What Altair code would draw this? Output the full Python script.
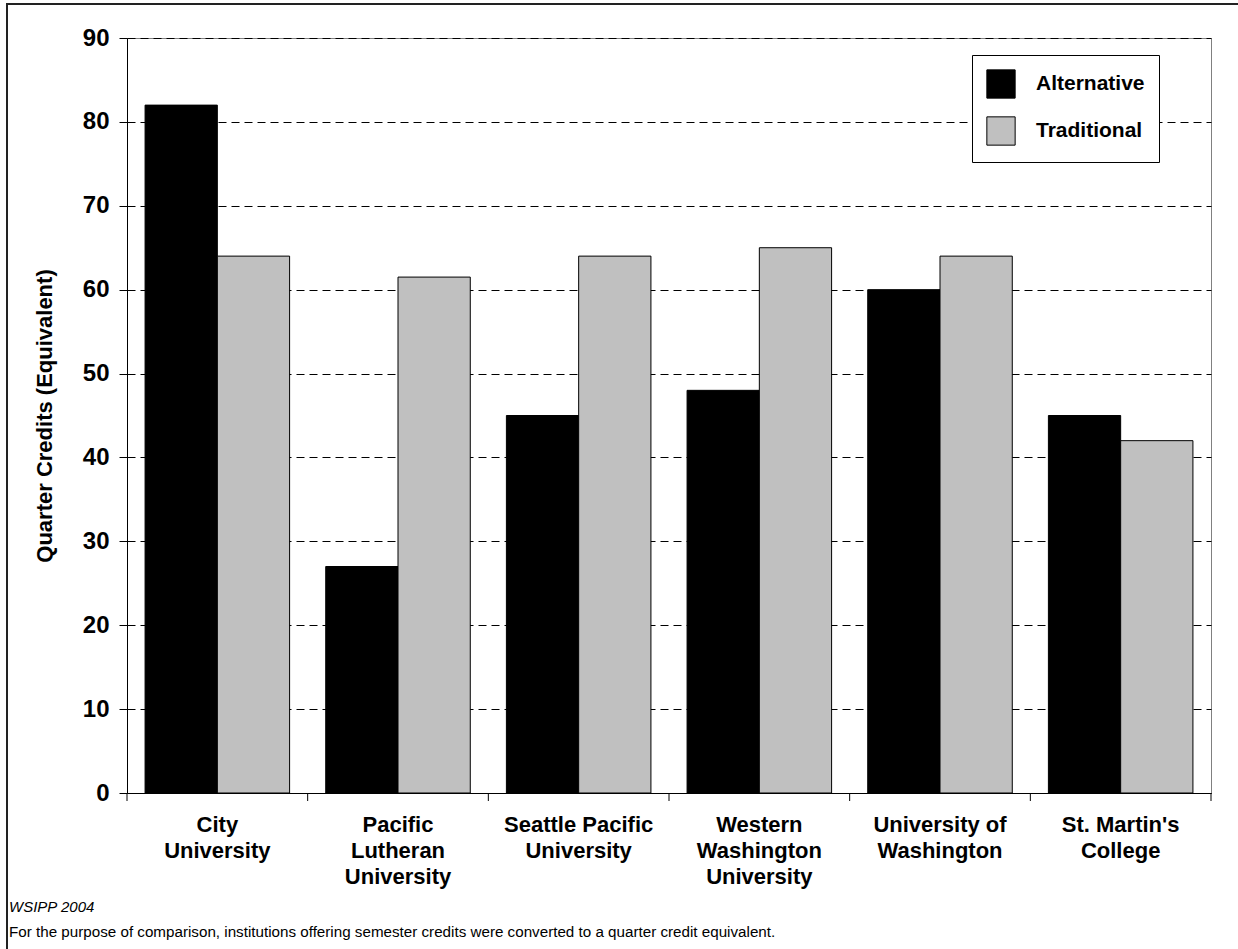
import json
import altair as alt
import pandas as pd

institutions = [
    "City University",
    "Pacific Lutheran University",
    "Seattle Pacific University",
    "Western Washington University",
    "University of Washington",
    "St. Martin's College",
]
label_lines = [
    ["City", "University"],
    ["Pacific", "Lutheran", "University"],
    ["Seattle Pacific", "University"],
    ["Western", "Washington", "University"],
    ["University of", "Washington"],
    ["St. Martin's", "College"],
]
alternative = [82, 27, 45, 48, 60, 45]
traditional = [64, 61.5, 64, 65, 64, 42]
series = ["Alternative", "Traditional"]
colors = ["#000000", "#c0c0c0"]
y_ticks = [0, 10, 20, 30, 40, 50, 60, 70, 80, 90]
y_title = "Quarter Credits (Equivalent)"
source_note = "WSIPP 2004"
footnote = ("For the purpose of comparison, institutions offering semester credits "
            "were converted to a quarter credit equivalent.")

FONT = "Liberation Sans"
W, H = 1084, 755

rows = []
for inst, a, t in zip(institutions, alternative, traditional):
    rows.append({"institution": inst, "series": "Alternative", "value": a})
    rows.append({"institution": inst, "series": "Traditional", "value": t})
df = pd.DataFrame(rows)

# multi-line label expression
expr = "''"
for inst, lines in reversed(list(zip(institutions, label_lines))):
    expr = f"datum.value == {json.dumps(inst)} ? {json.dumps(lines)} : ({expr})"

x_scale = alt.Scale(paddingInner=0, paddingOuter=0)
x_axis = alt.Axis(title=None, labelExpr=expr, labelAngle=0,
                  labelFont=FONT, labelFontSize=22, labelFontWeight="bold",
                  labelColor="black", labelPadding=21, labelLineHeight=26,
                  ticks=False, domainColor="black", domainWidth=1,
                  labelLimit=300)

bars = alt.Chart(df).mark_bar(stroke="black", strokeWidth=1).encode(
    x=alt.X("institution:N", sort=institutions, scale=x_scale, axis=x_axis),
    xOffset=alt.XOffset("series:N", sort=series,
                        scale=alt.Scale(paddingOuter=0.25, paddingInner=0)),
    y=alt.Y("value:Q", scale=alt.Scale(domain=[0, 90], nice=False),
            axis=alt.Axis(values=y_ticks, title=y_title, titleFont=FONT,
                          titleFontSize=22, titleFontWeight="bold", titleColor="black",
                          titleAngle=-90, titleX=-83, titleY=H / 2, titleBaseline="middle",
                          titleAlign="center",
                          labelFont=FONT, labelFontSize=24, labelFontWeight="bold",
                          labelColor="black", labelPadding=10,
                          tickColor="black", tickSize=8, domainColor="black",
                          grid=True, gridColor="black", gridDash=[8, 5], gridWidth=1)),
    color=alt.Color("series:N", sort=series,
                    scale=alt.Scale(domain=series, range=colors),
                    legend=alt.Legend(title=None, orient="none", legendX=845, legendY=17,
                                      fillColor="white", strokeColor="black",
                                      padding=14, symbolType="square", symbolSize=800,
                                      symbolStrokeColor="black", symbolStrokeWidth=1,
                                      labelFont=FONT, labelFontSize=21,
                                      labelFontWeight="bold", labelColor="black",
                                      labelOffset=20, rowPadding=13)),
)

ticks_df = pd.DataFrame({"institution": institutions})
xticks = alt.Chart(ticks_df).mark_rule(color="black", strokeWidth=1).encode(
    x=alt.X("institution:N", sort=institutions, scale=x_scale, bandPosition=0, axis=x_axis),
    y=alt.value(H), y2=alt.value(H + 8),
)
end_tick = alt.Chart(pd.DataFrame({"k": [0]})).mark_rule(color="black").encode(
    x=alt.value(W), y=alt.value(H), y2=alt.value(H + 8))

frame = alt.Chart(pd.DataFrame({"k": [0]})).mark_rect(
    fillOpacity=0, stroke="#222222", strokeWidth=2).encode(
    x=alt.value(-120), x2=alt.value(1300), y=alt.value(-34), y2=alt.value(1100))

note1 = alt.Chart(pd.DataFrame({"t": [source_note]})).mark_text(
    font=FONT, fontSize=15, fontStyle="italic", align="left", baseline="middle",
    color="black").encode(text="t:N", x=alt.value(-118), y=alt.value(869))
note2 = alt.Chart(pd.DataFrame({"t": [footnote]})).mark_text(
    font=FONT, fontSize=15.2, align="left", baseline="middle",
    color="black").encode(text="t:N", x=alt.value(-118), y=alt.value(894))

chart = alt.layer(frame, bars, xticks, end_tick, note1, note2).properties(
    width=W, height=H,
    autosize=alt.AutoSizeParams(type="none"),
    padding={"left": 127, "top": 38, "right": 27, "bottom": 156},
    background="white",
).configure_view(stroke="#808080", strokeWidth=1)

chart.save("out.html", embed_options={"renderer": "svg", "actions": False})
